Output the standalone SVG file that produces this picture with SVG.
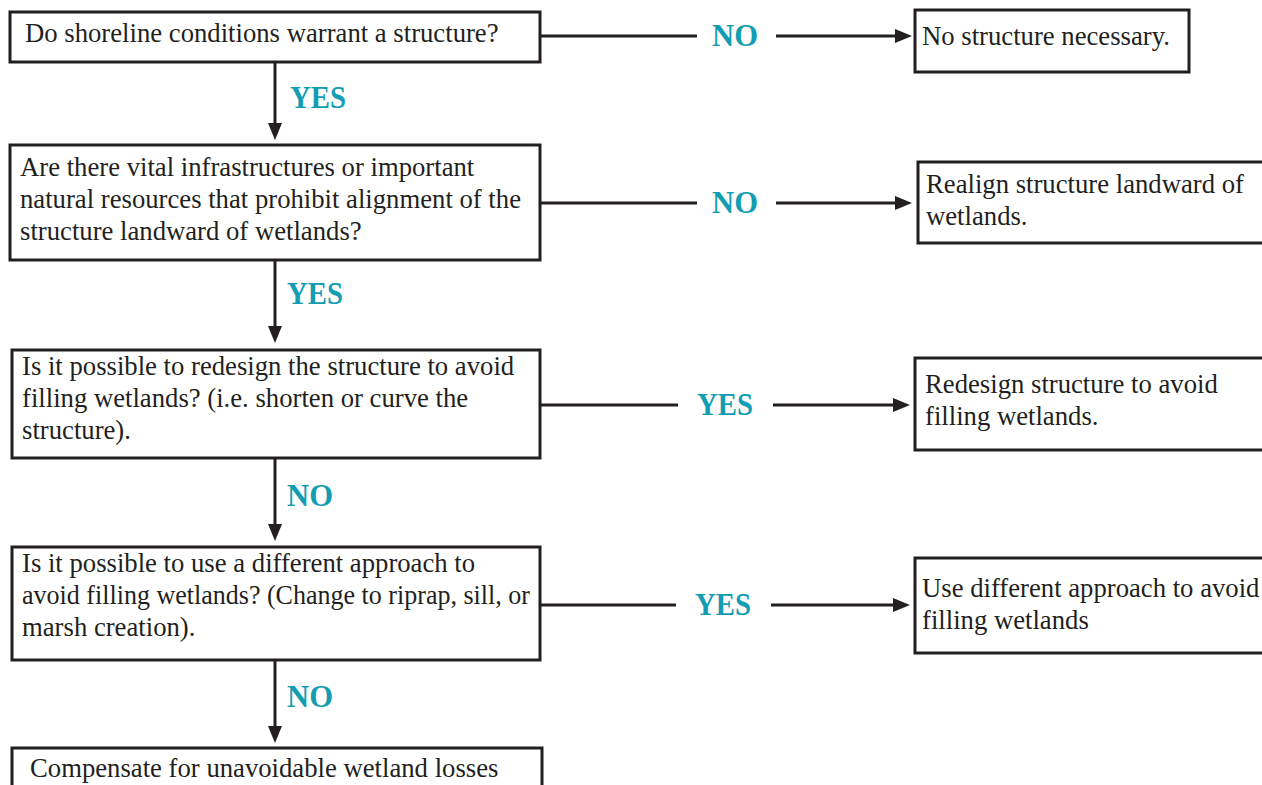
<svg xmlns="http://www.w3.org/2000/svg" width="1262" height="785" viewBox="0 0 1262 785">
<style>
.box{fill:#fff;stroke:#231f20;stroke-width:3}
.t{font-family:"Liberation Serif","Times New Roman",serif;font-size:26.7px;fill:#231f20}
.lbl{font-family:"Liberation Serif","Times New Roman",serif;font-size:30.5px;font-weight:bold;fill:#139db2}
.c{stroke:#231f20;stroke-width:3;fill:none}
</style>
<defs>
<marker id="ah" markerUnits="userSpaceOnUse" markerWidth="17" markerHeight="14" refX="8" refY="7" orient="auto">
<path d="M0,0 L17,7 L0,14 Z" fill="#231f20"/>
</marker>
</defs>
<rect width="1262" height="785" fill="#fff"/>

<g id="connectors">
<line class="c" x1="275" y1="62" x2="275" y2="131" marker-end="url(#ah)"/>
<line class="c" x1="275" y1="260" x2="275" y2="334" marker-end="url(#ah)"/>
<line class="c" x1="275" y1="458" x2="275" y2="532" marker-end="url(#ah)"/>
<line class="c" x1="275" y1="660" x2="275" y2="734" marker-end="url(#ah)"/>
<line class="c" x1="540" y1="36" x2="697" y2="36"/>
<line class="c" x1="776" y1="36" x2="903" y2="36" marker-end="url(#ah)"/>
<line class="c" x1="540" y1="203" x2="697" y2="203"/>
<line class="c" x1="776" y1="203" x2="903" y2="203" marker-end="url(#ah)"/>
<line class="c" x1="540" y1="405" x2="678" y2="405"/>
<line class="c" x1="773" y1="405" x2="901" y2="405" marker-end="url(#ah)"/>
<line class="c" x1="540" y1="605" x2="676" y2="605"/>
<line class="c" x1="771" y1="605" x2="901" y2="605" marker-end="url(#ah)"/>
<text class="lbl" x="290" y="108" textLength="56" lengthAdjust="spacingAndGlyphs">YES</text>
<text class="lbl" x="287" y="304" textLength="56" lengthAdjust="spacingAndGlyphs">YES</text>
<text class="lbl" x="287" y="506" textLength="46" lengthAdjust="spacingAndGlyphs">NO</text>
<text class="lbl" x="287" y="707" textLength="46" lengthAdjust="spacingAndGlyphs">NO</text>
<text class="lbl" x="712" y="46" textLength="46" lengthAdjust="spacingAndGlyphs">NO</text>
<text class="lbl" x="712" y="213" textLength="46" lengthAdjust="spacingAndGlyphs">NO</text>
<text class="lbl" x="697" y="415" textLength="56" lengthAdjust="spacingAndGlyphs">YES</text>
<text class="lbl" x="695" y="615" textLength="56" lengthAdjust="spacingAndGlyphs">YES</text>
</g>

<g id="q1">
<rect class="box" x="10" y="12" width="530" height="50"/>
<text class="t" x="25" y="42">Do shoreline conditions warrant a structure?</text>
</g>
<g id="q2">
<rect class="box" x="10" y="145" width="530" height="115"/>
<text class="t" x="20" y="176">Are there vital infrastructures or important</text>
<text class="t" x="20" y="208">natural resources that prohibit alignment of the</text>
<text class="t" x="20" y="240">structure landward of wetlands?</text>
</g>
<g id="q3">
<rect class="box" x="12" y="350" width="528" height="108"/>
<text class="t" x="22" y="375">Is it possible to redesign the structure to avoid</text>
<text class="t" x="22" y="407">filling wetlands? (i.e. shorten or curve the</text>
<text class="t" x="22" y="439">structure).</text>
</g>
<g id="q4">
<rect class="box" x="12" y="547" width="528" height="113"/>
<text class="t" x="22" y="572">Is it possible to use a different approach to</text>
<text class="t" x="22" y="604" textLength="508" lengthAdjust="spacingAndGlyphs">avoid filling wetlands? (Change to riprap, sill, or</text>
<text class="t" x="22" y="636">marsh creation).</text>
</g>
<g id="q5">
<rect class="box" x="12" y="748" width="530" height="45"/>
<text class="t" x="30" y="777">Compensate for unavoidable wetland losses</text>
</g>
<g id="r1">
<rect class="box" x="915" y="10" width="274" height="62"/>
<text class="t" x="922" y="45">No structure necessary.</text>
</g>
<g id="r2">
<rect class="box" x="918" y="162" width="350" height="81"/>
<text class="t" x="926" y="193">Realign structure landward of</text>
<text class="t" x="926" y="225">wetlands.</text>
</g>
<g id="r3">
<rect class="box" x="915" y="358" width="350" height="92"/>
<text class="t" x="925" y="393">Redesign structure to avoid</text>
<text class="t" x="925" y="425">filling wetlands.</text>
</g>
<g id="r4">
<rect class="box" x="915" y="558" width="350" height="95"/>
<text class="t" x="922" y="597">Use different approach to avoid</text>
<text class="t" x="922" y="629">filling wetlands</text>
</g>
</svg>
